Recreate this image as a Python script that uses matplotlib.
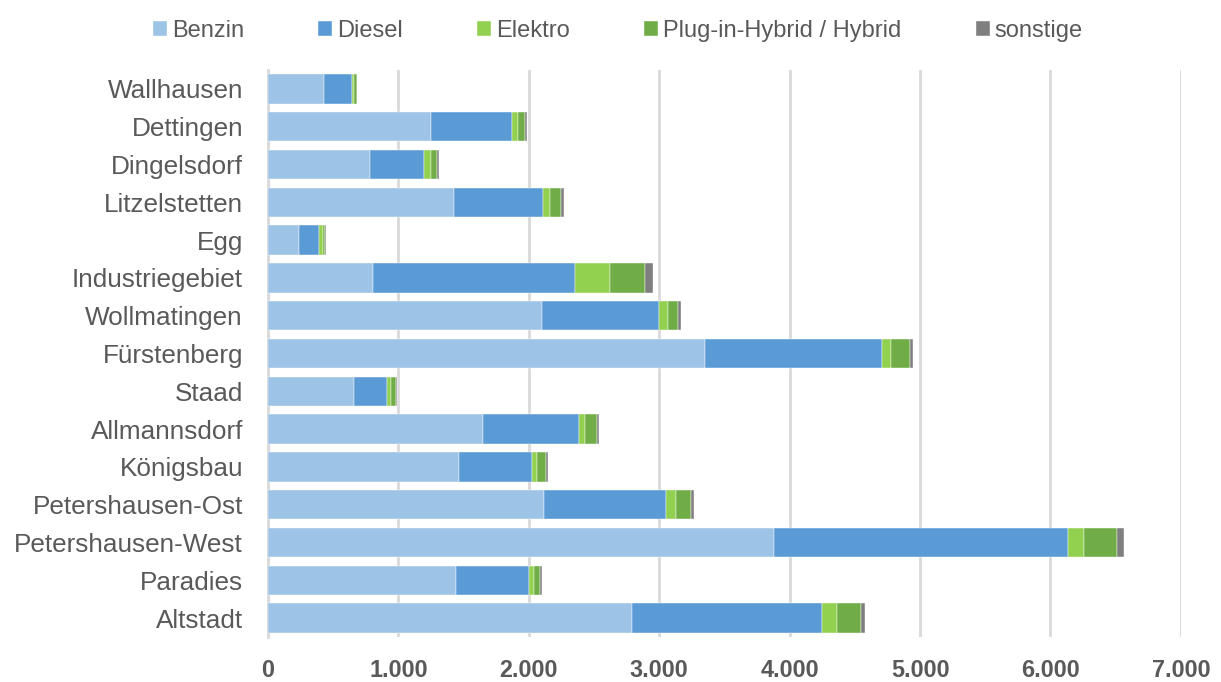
import matplotlib
matplotlib.use("Agg")
import matplotlib.pyplot as plt
import numpy as np

categories = ["Wallhausen", "Dettingen", "Dingelsdorf", "Litzelstetten", "Egg",
              "Industriegebiet", "Wollmatingen", "Fürstenberg", "Staad", "Allmannsdorf",
              "Königsbau", "Petershausen-Ost", "Petershausen-West", "Paradies", "Altstadt"]
benzin   = [428, 1251, 782, 1425, 236, 802, 2101, 3354, 659, 1650, 1461, 2117, 3882, 1438, 2788]
diesel   = [215, 620, 417, 681, 156, 1550, 894, 1355, 253, 733, 566, 932, 2250, 566, 1460]
elektro  = [13, 46, 49, 59, 26, 267, 70, 70, 29, 51, 36, 82, 128, 38, 116]
hybrid   = [28, 54, 46, 82, 18, 271, 82, 143, 43, 87, 69, 113, 253, 41, 181]
sonstige = [2, 12, 16, 24, 5, 64, 23, 23, 5, 16, 16, 20, 54, 18, 36]
series_names = ["Benzin", "Diesel", "Elektro", "Plug-in-Hybrid / Hybrid", "sonstige"]
xticks = [0, 1000, 2000, 3000, 4000, 5000, 6000, 7000]
xticklabels = ["0", "1.000", "2.000", "3.000", "4.000", "5.000", "6.000", "7.000"]

colors = ["#9DC3E6", "#5B9BD5", "#92D050", "#70AD47", "#7F7F7F"]
txt = "#595959"

plt.rcParams['font.family'] = ['Liberation Sans', 'DejaVu Sans']

fig = plt.figure(figsize=(12.21, 6.82), dpi=100)
ax = fig.add_axes([268/1221, 1-637/682, (1180.9-268)/1221, (637-70)/682])

y = np.arange(len(categories))
left = np.zeros(len(categories))
for name, vals, c in zip(series_names, [benzin, diesel, elektro, hybrid, sonstige], colors):
    vals = np.array(vals, dtype=float)
    ax.barh(y, vals, left=left, height=0.775, color=c, label=name,
            edgecolor="white", linewidth=0.3, zorder=3)
    left += vals

ax.set_ylim(len(categories) - 0.5, -0.5)
ax.set_xlim(0, 7000)
ax.set_yticks(y)
ax.set_yticklabels(categories, fontsize=18.8, color=txt)
ax.set_xticks(xticks)
ax.set_xticklabels(xticklabels, fontsize=16.8, color=txt, fontweight="bold")
ax.tick_params(axis="y", length=0, pad=18)
ax.tick_params(axis="x", length=0, pad=16)
ax.grid(axis="x", color="#D9D9D9", linewidth=2, zorder=0)
for s in ["top", "right", "bottom"]:
    ax.spines[s].set_visible(False)
ax.spines["left"].set_color("#D9D9D9")
ax.spines["left"].set_linewidth(2)

leg = fig.legend(loc="center", bbox_to_anchor=(0.506, 0.955), ncol=5, frameon=False,
                 fontsize=17, handlelength=0.6, handleheight=0.6, handletextpad=0.2,
                 columnspacing=3.15, labelcolor=txt)

fig.savefig("out.png", dpi=100)
